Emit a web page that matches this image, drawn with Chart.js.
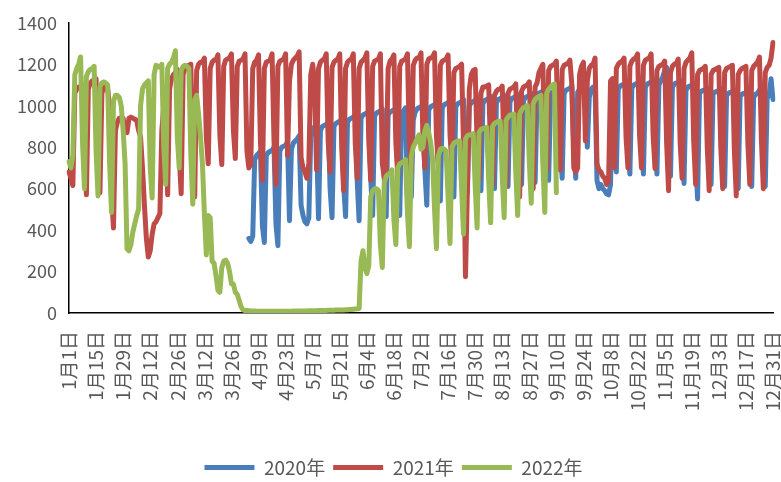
<!DOCTYPE html>
<html>
<head>
<meta charset="utf-8">
<script src="https://cdn.jsdelivr.net/npm/chart.js@4.4.1/dist/chart.umd.min.js"></script>
<style>
  html, body { margin: 0; padding: 0; background: #fff; }
  canvas { display: block; }
</style>
</head>
<body>
<canvas id="chart" width="781" height="482"></canvas>
<script>
// Daily ridership by calendar day (Jan 1 – Dec 31), three years compared.
const monthDays = [31, 28, 31, 30, 31, 30, 31, 31, 30, 31, 30, 31];

const tickLabels = [
  '1月1日', '1月15日', '1月29日', '2月12日', '2月26日', '3月12日', '3月26日',
  '4月9日', '4月23日', '5月7日', '5月21日', '6月4日', '6月18日', '7月2日',
  '7月16日', '7月30日', '8月13日', '8月27日', '9月10日', '9月24日', '10月8日',
  '10月22日', '11月5日', '11月19日', '12月3日', '12月17日', '12月31日'
];

const seriesNames = ['2020年', '2021年', '2022年'];

// 2020: series begins on 4月4日
const start2020 = '4月4日';
const y2020 = [
  360, 345, 370, 740, 760, 770, 780, 420, 340, 760, 775, 780, 785, 800, 430, 325, 780, 800, 805, 810, 825, 445, 790, 820, 830, 840, 855,
  520, 470, 440, 430, 460, 850, 880, 900, 850, 455, 880, 900, 905, 910, 920, 600, 460, 900, 915, 920, 925, 935, 620, 465, 920, 935, 940, 945, 960, 640, 445,
  940, 955, 960, 965, 975, 650, 470, 950, 965, 970, 975, 985, 660, 465, 955, 970, 975, 980, 990, 670, 470, 960, 975, 990, 560, 600, 560, 930, 970, 985,
  990, 995, 1005, 690, 520, 980, 995, 1000, 1005, 1015, 700, 540, 990, 1005, 1010, 1015, 1025, 710, 560, 995, 1010, 1015, 1020, 1030, 720, 580, 1000, 1015, 1020, 1025, 1035,
  730, 590, 1010, 1025, 1030, 1035, 1045, 740, 600, 1015, 1030, 1035, 1040, 1050, 750, 610, 1020, 1035, 1040, 1045, 1055, 760, 620, 1025, 1040, 1045, 1050, 1060, 770, 630, 1040,
  1060, 1065, 1070, 1080, 780, 640, 1050, 1065, 1070, 1075, 1085, 790, 650, 1060, 1075, 1080, 1085, 1095, 800, 650, 1065, 1080, 1085, 1090, 1100, 800, 1040, 1080, 1090, 1080,
  640, 600, 620, 600, 590, 575, 570, 620, 1050, 1060, 680, 1080, 1095, 1100, 1105, 1115, 800, 670, 1085, 1100, 1105, 1110, 1120, 810, 670, 1090, 1105, 1110, 1115, 1125, 800,
  670, 1100, 1120, 1140, 1170, 1185, 820, 660, 1090, 1105, 1110, 1110, 1120, 790, 625, 1075, 1090, 1095, 1095, 1105, 760, 550, 1060, 1070, 1075, 1075, 1085, 780, 620, 1060,
  1065, 1070, 1070, 1080, 770, 610, 1050, 1060, 1065, 1065, 1075, 760, 600, 1045, 1055, 1060, 1060, 1070, 760, 610, 1040, 1055, 1060, 1075, 1090, 760, 610, 1040, 1050, 1130, 1030
];

// 2021: full year
const y2021 = [
  680, 650, 615, 1060, 1080, 1090, 1090, 1100, 760, 570, 1080, 1110, 1120, 1120, 1130, 740, 580, 1060, 1090, 1090, 1080, 1000, 560, 410, 880, 920, 940, 940, 940, 880, 870,
  940, 945, 940, 935, 930, 880, 850, 700, 520, 360, 270, 300, 380, 430, 440, 460, 480, 880, 1000, 1010, 570, 1080, 1130, 1150, 1160, 1175, 760, 575,
  1150, 1180, 1190, 1195, 1200, 770, 560, 1170, 1200, 1210, 1210, 1230, 850, 720, 1180, 1210, 1220, 1220, 1245, 860, 716, 1190, 1220, 1225, 1230, 1250, 880, 745, 1190, 1215, 1220,
  1225, 1250, 780, 700, 720, 1180, 1210, 1220, 1245, 820, 640, 1180, 1210, 1215, 1220, 1250, 830, 620, 1190, 1215, 1220, 1225, 1250, 760, 1120, 1200, 1220, 1230, 1240, 1260,
  750, 700, 680, 650, 720, 1150, 1200, 1100, 690, 1180, 1210, 1220, 1225, 1250, 830, 680, 1185, 1210, 1220, 1225, 1250, 800, 590, 1180, 1210, 1220, 1225, 1250, 820, 650, 1180,
  1210, 1220, 1230, 1255, 830, 640, 1190, 1215, 1220, 1225, 1250, 720, 650, 700, 1180, 1215, 1225, 1245, 820, 660, 1190, 1215, 1220, 1225, 1250, 830, 680, 1195, 1220, 1230,
  1230, 1255, 840, 700, 1200, 1225, 1230, 1235, 1255, 850, 710, 1195, 1215, 1220, 1225, 1245, 860, 720, 1160, 1180, 1185, 1190, 1200, 800, 175, 600, 1080, 1150, 1170, 1175, 820,
  650, 1060, 1090, 1090, 1095, 1100, 780, 620, 1050, 1070, 1080, 1080, 1095, 770, 610, 1060, 1080, 1085, 1090, 1105, 780, 560, 1070, 1090, 1095, 1100, 1115, 800, 600, 1090, 1110,
  1160, 1180, 1200, 820, 690, 1170, 1190, 1195, 1200, 1215, 830, 690, 1175, 1195, 1200, 1205, 1220, 1100, 700, 680, 700, 1150, 1190, 1210, 830, 1120, 1180, 1195, 1200, 1230,
  720, 690, 680, 660, 650, 620, 640, 1120, 1130, 700, 1180, 1200, 1210, 1215, 1230, 850, 700, 1190, 1215, 1225, 1230, 1250, 860, 700, 1195, 1220, 1225, 1230, 1250, 860, 697,
  1170, 1190, 1195, 1200, 1215, 820, 590, 1160, 1190, 1200, 1205, 1225, 820, 650, 1180, 1210, 1220, 1230, 1255, 830, 620, 1150, 1170, 1175, 1180, 1190, 800, 590, 1150, 1170,
  1175, 1180, 1185, 800, 600, 1160, 1180, 1185, 1190, 1195, 790, 565, 1150, 1170, 1180, 1185, 1190, 820, 620, 1170, 1190, 1200, 1210, 1235, 840, 600, 1160, 1185, 1195, 1230, 1305
];

// 2022: 1月1日 through 9月10日
const y2022 = [
  730, 700, 760, 1150, 1180, 1200, 1235, 820, 600, 1140, 1165, 1175, 1180, 1190, 780, 565, 1090, 1110, 1115, 1110, 1100, 720, 485, 1020, 1050, 1050, 1040, 1000, 880, 720, 310,
  300, 330, 390, 430, 470, 500, 1000, 1080, 1100, 1110, 1120, 700, 555, 1150, 1195, 1190, 1185, 1200, 800, 620, 1180, 1200, 1210, 1230, 1265, 850, 700, 1170,
  1190, 1195, 1190, 1180, 760, 525, 1030, 1050, 960, 850, 720, 480, 280, 470, 460, 250, 240, 180, 110, 100, 220, 250, 255, 240, 200, 140, 140, 100, 90, 60, 30,
  15, 12, 12, 11, 10, 10, 10, 9, 9, 9, 9, 8, 8, 8, 8, 8, 8, 8, 8, 8, 9, 9, 9, 9, 9, 9, 10, 10, 10, 10,
  10, 10, 10, 10, 11, 11, 11, 11, 11, 12, 12, 12, 12, 12, 13, 13, 13, 13, 14, 14, 14, 15, 15, 16, 16, 17, 17, 18, 19, 20, 22,
  250, 300, 220, 190, 230, 560, 590, 600, 600, 590, 330, 220, 630, 660, 670, 675, 690, 450, 330, 700, 720, 725, 730, 740, 480, 320, 760, 800, 820, 840,
  860, 790, 800, 880, 905, 870, 820, 740, 500, 310, 760, 790, 795, 790, 780, 560, 335, 800, 820, 825, 830, 830, 600, 380, 840, 855, 860, 860, 865, 620, 410,
  870, 885, 890, 890, 895, 640, 435, 900, 915, 920, 925, 925, 660, 460, 930, 945, 955, 955, 960, 680, 470, 960, 980, 990, 995, 1000, 730, 530, 1010, 1030, 1040,
  1045, 1050, 720, 485, 1060, 1080, 1090, 1100, 1105, 580
];

const seriesColors = ['#4A7EBB', '#BE4B48', '#98B954'];

// Category labels: one per calendar day
const days = [];
monthDays.forEach((n, m) => {
  for (let d = 1; d <= n; d++) days.push((m + 1) + '月' + d + '日');
});
const tickSet = new Set(tickLabels);

const offset2020 = days.indexOf(start2020);
const data2020 = y2020.map((v, k) => ({ x: days[offset2020 + k], y: v }));

function lineSet(label, data, color, order) {
  return {
    label, data, order,
    borderColor: color,
    backgroundColor: color,
    borderWidth: 5,
    borderJoinStyle: 'round',
    borderCapStyle: 'round',
    pointRadius: 0,
    pointHoverRadius: 0,
    tension: 0,
    fill: false,
    spanGaps: false
  };
}

Chart.defaults.font.family = "'Noto Sans CJK SC', 'Noto Sans', sans-serif";
Chart.defaults.color = '#595959';

new Chart(document.getElementById('chart'), {
  type: 'line',
  data: {
    labels: days,
    datasets: [
      lineSet(seriesNames[0], data2020, seriesColors[0], 3),
      lineSet(seriesNames[1], y2021, seriesColors[1], 2),
      lineSet(seriesNames[2], y2022, seriesColors[2], 1)
    ]
  },
  options: {
    responsive: false,
    animation: false,
    events: [],
    layout: { padding: { left: 14, right: 8, top: 22, bottom: 2 } },
    plugins: {
      legend: {
        position: 'bottom',
        maxHeight: 30,
        labels: {
          usePointStyle: true,
          pointStyle: 'line',
          pointStyleWidth: 50,
          padding: 8,
          color: '#595959',
          font: { size: 19 },
          sort: (a, b) => a.datasetIndex - b.datasetIndex
        }
      },
      tooltip: { enabled: false }
    },
    scales: {
      x: {
        grid: { display: false, drawTicks: false },
        border: { display: true, color: '#000', width: 1.5 },
        ticks: {
          autoSkip: false,
          minRotation: 90,
          maxRotation: 90,
          padding: 18,
          color: '#595959',
          font: { size: 19 },
          callback(value) {
            const s = this.getLabelForValue(value);
            return tickSet.has(s) ? s : '';
          }
        },
        afterFit(scale) {
          scale.height = 137;
          scale.paddingLeft = 0;
          scale.paddingRight = 0;
        }
      },
      y: {
        min: 0,
        max: 1400,
        grid: { display: false, drawTicks: false },
        border: { display: true, color: '#000', width: 1.5 },
        ticks: {
          stepSize: 200,
          padding: 12,
          color: '#595959',
          font: { size: 18 },
          callback: (value) => String(value)
        },
        afterFit(scale) { scale.width = 55; }
      }
    }
  }
});
</script>
</body>
</html>
